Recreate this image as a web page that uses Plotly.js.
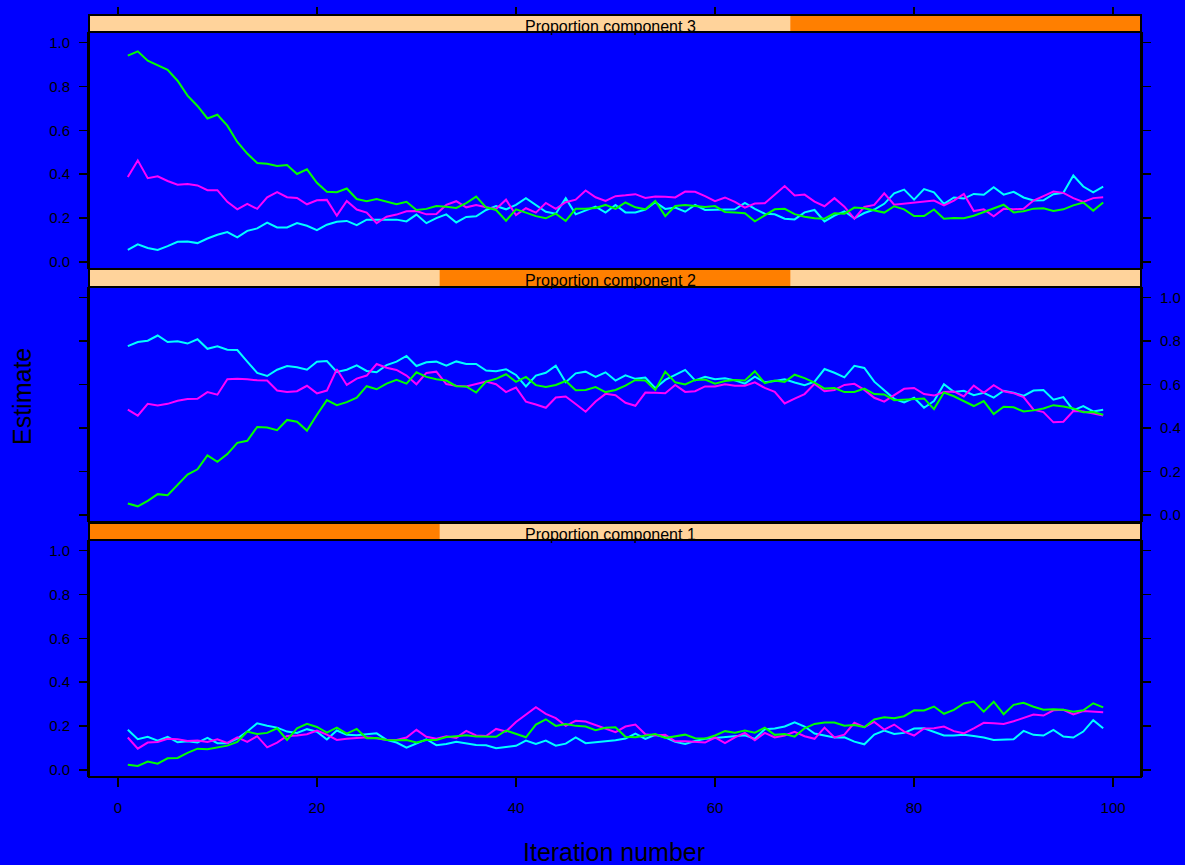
<!DOCTYPE html>
<html>
<head>
<meta charset="utf-8">
<script src="https://cdn.plot.ly/plotly-3.0.1.min.js"></script>
<style>html,body{margin:0;padding:0;background:#0000FF;}</style>
</head>
<body>
<div id="chart" style="width:1185px;height:865px;"></div>
<script>
// Iteration numbers (x values)
const iterations = Array.from({length: 99}, (_, k) => k + 1);

// Panel labels (strips), top to bottom
const panelLabels = ["Proportion component 3", "Proportion component 2", "Proportion component 1"];
const xTickVals = [0, 20, 40, 60, 80, 100];
const yTickVals = [0, 0.2, 0.4, 0.6, 0.8, 1.0];
const yTickText = ["0.0", "0.2", "0.4", "0.6", "0.8", "1.0"];

// ---- Proportion component 3 ----
const comp3_cyan = [0.055,0.080,0.064,0.055,0.072,0.092,0.093,0.086,0.107,0.124,0.136,0.112,0.142,0.153,0.179,0.157,0.157,0.177,0.165,0.145,0.170,0.183,0.187,0.168,0.193,0.193,0.194,0.193,0.185,0.216,0.177,0.200,0.217,
  0.180,0.205,0.208,0.237,0.255,0.240,0.260,0.291,0.260,0.229,0.220,0.291,0.217,0.234,0.252,0.225,0.260,0.226,0.226,0.239,0.272,0.242,0.248,0.229,0.260,0.237,0.237,0.237,0.240,0.269,0.242,0.220,0.217,0.197,0.194,
  0.226,0.237,0.185,0.211,0.231,0.199,0.223,0.239,0.265,0.313,0.330,0.284,0.332,0.317,0.265,0.294,0.289,0.310,0.306,0.341,0.307,0.320,0.294,0.280,0.281,0.309,0.315,0.394,0.344,0.317,0.343];
const comp3_magenta = [0.387,0.463,0.382,0.390,0.369,0.352,0.355,0.349,0.327,0.327,0.274,0.240,0.265,0.242,0.295,0.318,0.295,0.292,0.263,0.281,0.283,0.211,0.278,0.239,0.225,0.177,0.206,0.216,0.231,0.232,0.217,0.219,0.260,
  0.277,0.249,0.260,0.249,0.242,0.284,0.214,0.245,0.225,0.269,0.242,0.272,0.284,0.326,0.295,0.278,0.300,0.304,0.309,0.292,0.298,0.297,0.294,0.321,0.320,0.300,0.277,0.294,0.274,0.248,0.266,0.268,0.307,0.346,0.303,
  0.307,0.275,0.254,0.291,0.252,0.197,0.251,0.260,0.313,0.261,0.265,0.271,0.275,0.280,0.258,0.280,0.310,0.232,0.240,0.208,0.242,0.240,0.242,0.280,0.300,0.321,0.315,0.291,0.274,0.291,0.295];
const comp3_green = [0.940,0.960,0.917,0.896,0.876,0.826,0.758,0.711,0.654,0.671,0.621,0.547,0.494,0.451,0.448,0.437,0.442,0.401,0.422,0.361,0.320,0.318,0.335,0.287,0.277,0.287,0.275,0.263,0.274,0.237,0.242,0.255,0.252,
  0.246,0.268,0.298,0.249,0.237,0.188,0.240,0.225,0.209,0.199,0.220,0.187,0.242,0.242,0.246,0.260,0.242,0.271,0.249,0.240,0.278,0.209,0.255,0.260,0.254,0.251,0.255,0.228,0.226,0.222,0.185,0.213,0.240,0.242,0.218,
  0.206,0.199,0.197,0.222,0.220,0.248,0.245,0.234,0.225,0.254,0.240,0.209,0.209,0.239,0.197,0.200,0.199,0.211,0.228,0.245,0.261,0.226,0.231,0.243,0.245,0.232,0.240,0.258,0.271,0.234,0.271];

// ---- Proportion component 2 ----
const comp2_cyan = [0.776,0.795,0.801,0.825,0.795,0.799,0.788,0.808,0.764,0.775,0.760,0.758,0.705,0.653,0.639,0.668,0.685,0.679,0.668,0.705,0.708,0.658,0.668,0.688,0.662,0.656,0.689,0.705,0.731,0.685,0.702,0.705,0.686,
  0.706,0.694,0.694,0.664,0.661,0.670,0.644,0.591,0.641,0.654,0.686,0.610,0.651,0.659,0.635,0.656,0.618,0.642,0.626,0.632,0.583,0.621,0.644,0.667,0.619,0.635,0.624,0.629,0.619,0.604,0.636,0.610,0.616,0.624,0.609,
  0.597,0.613,0.671,0.654,0.633,0.686,0.676,0.613,0.575,0.534,0.518,0.539,0.493,0.524,0.601,0.566,0.571,0.551,0.562,0.540,0.571,0.562,0.548,0.572,0.575,0.530,0.542,0.481,0.501,0.476,0.484];
const comp2_magenta = [0.484,0.457,0.511,0.504,0.511,0.525,0.533,0.534,0.565,0.553,0.624,0.626,0.624,0.619,0.618,0.572,0.566,0.569,0.594,0.559,0.572,0.670,0.598,0.627,0.641,0.694,0.677,0.667,0.641,0.601,0.653,0.659,0.602,
  0.594,0.591,0.603,0.613,0.601,0.565,0.586,0.521,0.508,0.493,0.540,0.545,0.510,0.475,0.522,0.557,0.551,0.516,0.502,0.563,0.562,0.560,0.598,0.566,0.569,0.591,0.591,0.601,0.594,0.594,0.610,0.584,0.566,0.513,0.535,
  0.556,0.603,0.569,0.575,0.598,0.603,0.575,0.539,0.521,0.551,0.580,0.584,0.556,0.549,0.565,0.568,0.545,0.595,0.562,0.597,0.569,0.560,0.542,0.484,0.473,0.426,0.429,0.478,0.476,0.466,0.457];
const comp2_green = [0.053,0.040,0.065,0.096,0.091,0.139,0.186,0.210,0.274,0.245,0.280,0.332,0.341,0.405,0.402,0.390,0.437,0.429,0.388,0.461,0.528,0.505,0.519,0.539,0.592,0.578,0.604,0.621,0.604,0.656,0.635,0.624,0.618,
  0.592,0.591,0.563,0.613,0.626,0.647,0.612,0.635,0.597,0.588,0.598,0.616,0.574,0.575,0.588,0.565,0.575,0.595,0.621,0.618,0.575,0.659,0.610,0.600,0.621,0.623,0.604,0.616,0.621,0.618,0.661,0.606,0.618,0.612,0.645,
  0.629,0.609,0.581,0.584,0.565,0.566,0.581,0.556,0.554,0.528,0.531,0.536,0.536,0.487,0.563,0.546,0.524,0.501,0.524,0.464,0.498,0.495,0.476,0.481,0.490,0.505,0.499,0.490,0.472,0.473,0.461];

// ---- Proportion component 1 ----
const comp1_cyan = [0.183,0.140,0.151,0.134,0.151,0.126,0.131,0.125,0.146,0.122,0.122,0.143,0.175,0.213,0.202,0.193,0.175,0.169,0.186,0.174,0.139,0.180,0.160,0.158,0.163,0.167,0.137,0.125,0.102,0.120,0.140,0.113,0.118,
  0.129,0.122,0.114,0.113,0.099,0.105,0.110,0.134,0.119,0.134,0.111,0.120,0.148,0.122,0.125,0.131,0.135,0.143,0.166,0.142,0.160,0.149,0.128,0.119,0.132,0.142,0.146,0.151,0.154,0.158,0.142,0.186,0.189,0.198,0.217,
  0.198,0.166,0.158,0.148,0.149,0.129,0.117,0.161,0.180,0.164,0.169,0.189,0.190,0.175,0.157,0.157,0.160,0.155,0.148,0.137,0.139,0.140,0.178,0.160,0.157,0.183,0.152,0.148,0.175,0.227,0.190];
const comp1_magenta = [0.148,0.097,0.125,0.128,0.142,0.140,0.132,0.134,0.128,0.140,0.123,0.149,0.128,0.154,0.103,0.125,0.155,0.157,0.163,0.180,0.161,0.137,0.142,0.146,0.149,0.145,0.137,0.137,0.148,0.183,0.151,0.142,0.154,
  0.146,0.178,0.157,0.155,0.187,0.175,0.219,0.254,0.286,0.256,0.236,0.201,0.224,0.221,0.205,0.186,0.172,0.198,0.207,0.163,0.157,0.160,0.131,0.131,0.128,0.125,0.148,0.122,0.149,0.169,0.135,0.169,0.148,0.157,0.174,
  0.154,0.142,0.193,0.148,0.161,0.215,0.195,0.219,0.184,0.207,0.175,0.157,0.189,0.190,0.198,0.177,0.167,0.190,0.215,0.213,0.210,0.222,0.239,0.253,0.248,0.272,0.274,0.253,0.269,0.265,0.263];
const comp1_green = [0.024,0.018,0.038,0.029,0.053,0.055,0.078,0.097,0.094,0.103,0.111,0.128,0.175,0.164,0.169,0.190,0.137,0.190,0.210,0.196,0.170,0.193,0.166,0.187,0.145,0.146,0.137,0.135,0.137,0.125,0.137,0.137,0.150,
  0.154,0.158,0.152,0.151,0.151,0.180,0.164,0.149,0.207,0.231,0.201,0.209,0.201,0.198,0.181,0.192,0.195,0.151,0.149,0.157,0.164,0.146,0.154,0.161,0.145,0.143,0.157,0.177,0.170,0.180,0.170,0.193,0.160,0.164,0.152,
  0.190,0.210,0.216,0.216,0.202,0.205,0.195,0.230,0.240,0.236,0.245,0.272,0.271,0.289,0.256,0.274,0.303,0.312,0.266,0.311,0.254,0.297,0.306,0.288,0.275,0.277,0.275,0.265,0.272,0.304,0.285];

const chainColors = ["#00FFFF", "#FF00FF", "#00FF00"];
const stripBg = "#FFD39B";
const stripFg = "#FF7F00";
const FONT = "Liberation Sans, Arial, Helvetica, sans-serif";

// panel definitions
const panels = [
  {series: [comp3_cyan, comp3_magenta, comp3_green], xa: "x2", ya: "y3", level: 3, label: panelLabels[0]},
  {series: [comp2_cyan, comp2_magenta, comp2_green], xa: "x",  ya: "y2", level: 2, label: panelLabels[1]},
  {series: [comp1_cyan, comp1_magenta, comp1_green], xa: "x",  ya: "y",  level: 1, label: panelLabels[2]}
];
const nLevels = 3;

const traces = [];
panels.forEach(p => {
  p.series.forEach((s, k) => {
    traces.push({
      type: "scatter", mode: "lines", x: iterations, y: s,
      xaxis: p.xa, yaxis: p.ya,
      line: {color: chainColors[k], width: 2},
      hoverinfo: "skip", showlegend: false
    });
  });
});

// pixel geometry -> paper fractions (plot area: y 15..777, x 89..1141)
const H_TOP = 15, H_BOT = 777;
const py = y => (H_BOT - y) / (H_BOT - H_TOP);
const panelBoxes = [
  {stripTop: 15,  stripBot: 32,  plotBot: 269},
  {stripTop: 269, stripBot: 287, plotBot: 522},
  {stripTop: 523, stripBot: 540, plotBot: 777}
];

const shapes = [];
const annotations = [];
panels.forEach((p, idx) => {
  const b = panelBoxes[idx];
  shapes.push({type: "rect", xref: "paper", yref: "paper", x0: 0, x1: 1, y0: py(b.stripBot), y1: py(b.stripTop),
    fillcolor: stripBg, line: {width: 0}, layer: "above"});
  shapes.push({type: "rect", xref: "paper", yref: "paper", x0: (p.level - 1) / nLevels, x1: p.level / nLevels,
    y0: py(b.stripBot), y1: py(b.stripTop), fillcolor: stripFg, line: {width: 0}, layer: "above"});
  shapes.push({type: "rect", xref: "paper", yref: "paper", x0: 0, x1: 1, y0: py(b.stripBot), y1: py(b.stripTop),
    fillcolor: "rgba(0,0,0,0)", line: {color: "black", width: 2}, layer: "above"});
  shapes.push({type: "rect", xref: "paper", yref: "paper", x0: 0, x1: 1, y0: py(b.plotBot), y1: py(b.stripBot),
    fillcolor: "rgba(0,0,0,0)", line: {color: "black", width: 2}, layer: "above"});
  annotations.push({text: p.label, xref: "paper", yref: "paper", x: 0.496, y: py((b.stripTop + b.stripBot) / 2 + 2.5),
    xanchor: "center", yanchor: "middle", showarrow: false, font: {family: FONT, size: 16, color: "black"}});
});

annotations.push({text: "Estimate", xref: "paper", yref: "paper", x: (22 - 89) / 1052, y: py(397),
  xanchor: "center", yanchor: "middle", textangle: -90, showarrow: false, font: {family: FONT, size: 25, color: "black"}});
annotations.push({text: "Iteration number", xref: "paper", yref: "paper", x: (614 - 89) / 1052, y: py(852),
  xanchor: "center", yanchor: "middle", showarrow: false, font: {family: FONT, size: 25, color: "black"}});

const yCommon = {
  range: [-0.032, 1.048], tickvals: yTickVals, ticktext: yTickText,
  ticks: "outside", ticklen: 8, tickwidth: 1.5, tickcolor: "black",
  showgrid: false, zeroline: false, showline: true, linecolor: "black", linewidth: 2, mirror: "ticks",
  tickfont: {family: FONT, size: 15, color: "black"}, ticklabelstandoff: 6, fixedrange: true
};
const xCommon = {
  range: [-2.9, 102.8], tickvals: xTickVals, domain: [0, 1],
  ticks: "outside", ticklen: 9, tickwidth: 1.5, tickcolor: "black",
  showgrid: false, zeroline: false, showline: false,
  tickfont: {family: FONT, size: 15, color: "black"}, fixedrange: true
};

const layout = {
  width: 1185, height: 865,
  paper_bgcolor: "#0000FF", plot_bgcolor: "#0000FF",
  margin: {l: 89, r: 44, t: 15, b: 88, pad: 0},
  showlegend: false,
  xaxis: Object.assign({}, xCommon, {anchor: "y", side: "bottom", ticklabelstandoff: 8}),
  xaxis2: Object.assign({}, xCommon, {anchor: "free", position: 1, side: "top", showticklabels: false, ticklen: 8}),
  yaxis: Object.assign({}, yCommon, {domain: [py(777), py(540)], anchor: "x", side: "left"}),
  yaxis2: Object.assign({}, yCommon, {domain: [py(522), py(287)], anchor: "x", side: "right"}),
  yaxis3: Object.assign({}, yCommon, {domain: [py(269), py(32)], anchor: "x2", side: "left"}),
  shapes: shapes,
  annotations: annotations
};

Plotly.newPlot("chart", traces, layout, {displayModeBar: false, staticPlot: true});
</script>
</body>
</html>
